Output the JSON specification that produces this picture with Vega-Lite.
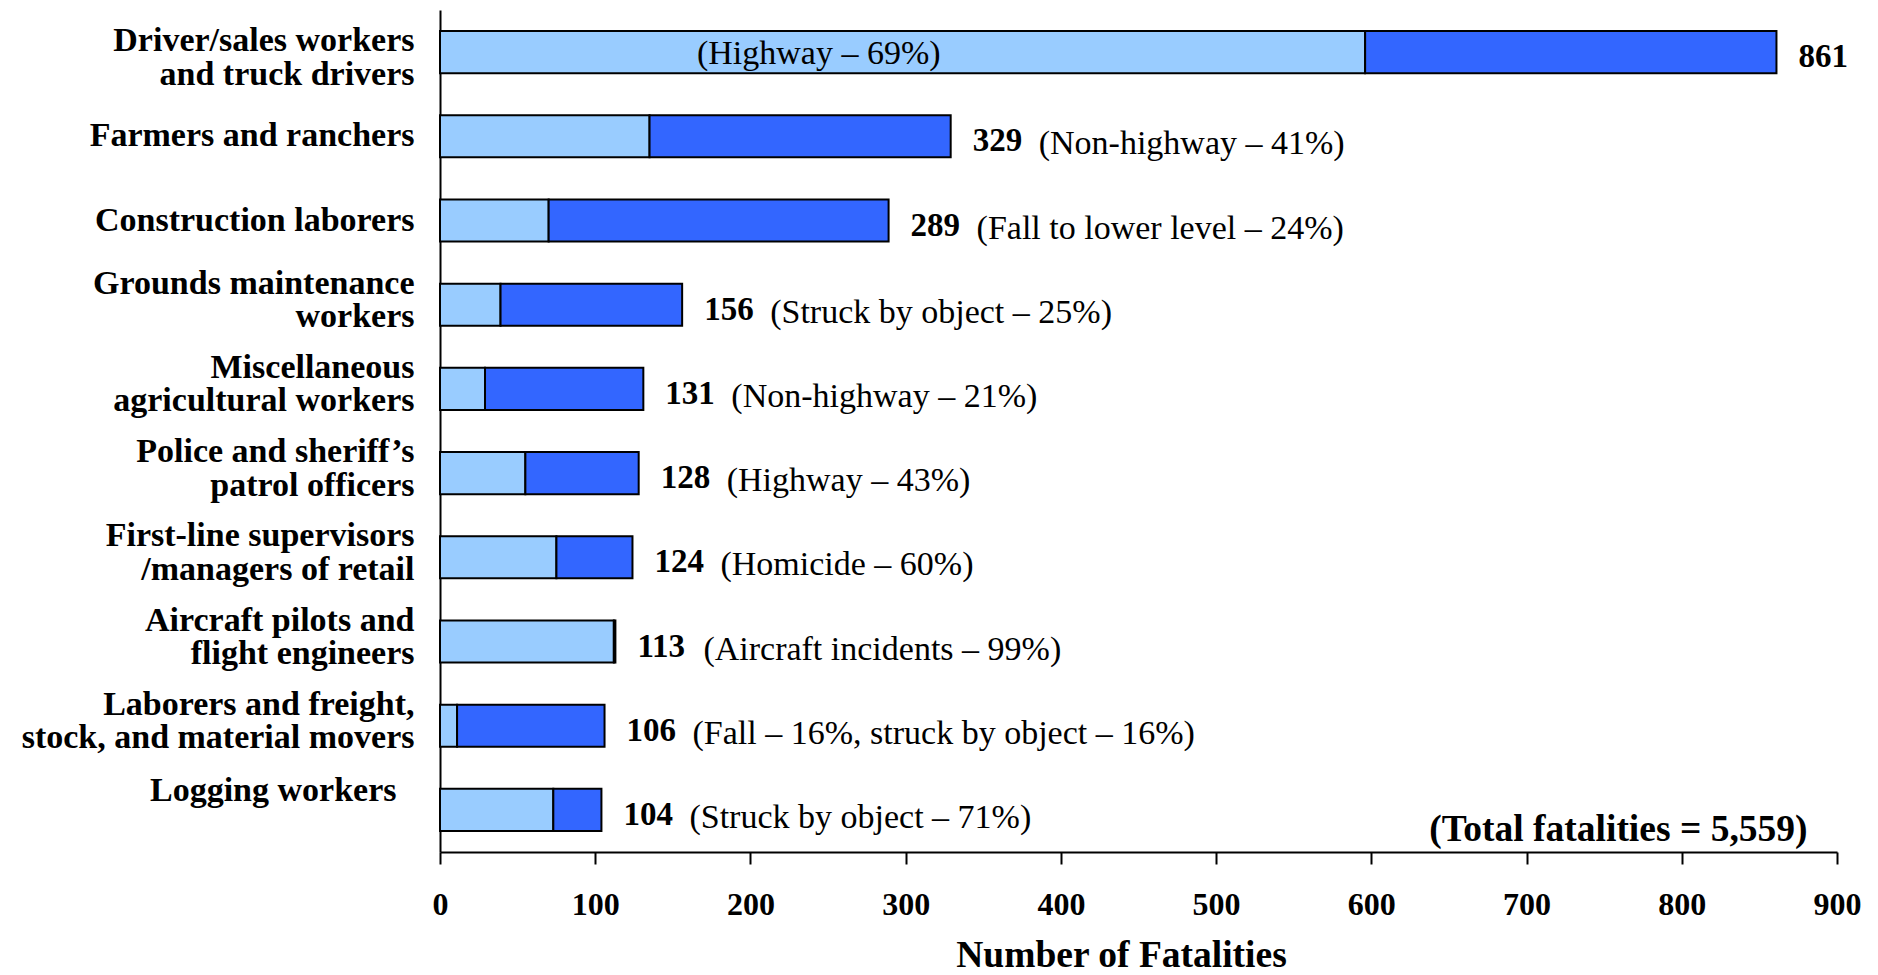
{
  "$schema": "https://vega.github.io/schema/vega-lite/v6.json",
  "width": 1397,
  "height": 842,
  "autosize": {"type": "none"},
  "padding": {"left": 440, "top": 10, "right": 41, "bottom": 123},
  "background": "white",
  "config": {"view": {"stroke": null}, "font": "Liberation Serif"},
  "data": {
    "values": [
      {"occupation": "Driver/sales workers\nand truck drivers", "total": 861, "primary": 596, "cause": "(Highway – 69%)"},
      {"occupation": "Farmers and ranchers", "total": 329, "primary": 135, "cause": "(Non-highway – 41%)"},
      {"occupation": "Construction laborers", "total": 289, "primary": 70, "cause": "(Fall to lower level – 24%)"},
      {"occupation": "Grounds maintenance\nworkers", "total": 156, "primary": 39, "cause": "(Struck by object – 25%)"},
      {"occupation": "Miscellaneous\nagricultural workers", "total": 131, "primary": 29, "cause": "(Non-highway – 21%)"},
      {"occupation": "Police and sheriff’s\npatrol officers", "total": 128, "primary": 55, "cause": "(Highway – 43%)"},
      {"occupation": "First-line supervisors\n/managers of retail", "total": 124, "primary": 75, "cause": "(Homicide – 60%)"},
      {"occupation": "Aircraft pilots and\nflight engineers", "total": 113, "primary": 112, "cause": "(Aircraft incidents – 99%)"},
      {"occupation": "Laborers and freight,\nstock, and material movers", "total": 106, "primary": 11, "cause": "(Fall – 16%, struck by object – 16%)"},
      {"occupation": "Logging workers", "total": 104, "primary": 73, "cause": "(Struck by object – 71%)"}
    ]
  },
  "layer": [
    {
      "mark": {"type": "bar", "color": "#99CCFF", "stroke": "black", "strokeWidth": 2},
      "encoding": {
        "y": {
          "field": "occupation", "type": "nominal", "sort": null,
          "scale": {"paddingInner": 0.5, "paddingOuter": 0.25},
          "axis": {
            "title": null, "domainColor": "black", "domainWidth": 2, "ticks": false, "tickSize": 0,
            "labelPadding": {"condition": {"test": "datum.value === 'Logging workers'", "value": 44}, "value": 26},
            "labelOffset": {"condition": [
              {"test": "indexof(datum.value, 'Driver') >= 0", "value": -11},
              {"test": "datum.value === 'Logging workers'", "value": -19},
              {"test": "indexof(datum.value, '\\n') >= 0", "value": -21}
            ], "value": 0},
            "labelFontSize": 34, "labelFontWeight": "bold", "labelColor": "black",
            "labelLineHeight": 33.5, "labelLimit": 600, "labelExpr": "split(datum.label, '\\n')"
          }
        },
        "x": {
          "field": "primary", "type": "quantitative",
          "scale": {"domain": [0, 900], "nice": false, "zero": true},
          "axis": {
            "values": [0, 100, 200, 300, 400, 500, 600, 700, 800, 900],
            "grid": false, "domainColor": "black", "domainWidth": 2,
            "tickColor": "black", "tickWidth": 2, "tickSize": 12,
            "labelFontSize": 32, "labelFontWeight": "bold", "labelColor": "black",
            "labelPadding": 25, "labelFlush": false, "labelOverlap": false,
            "title": "Number of Fatalities", "titleFontSize": 37.5, "titleFontWeight": "bold",
            "titleColor": "black", "titleBaseline": "bottom", "titleY": 122, "titleX": 681
          }
        }
      }
    },
    {
      "mark": {"type": "bar", "color": "#3366FF", "stroke": "black", "strokeWidth": 2},
      "encoding": {
        "y": {"field": "occupation", "type": "nominal", "sort": null},
        "x": {"field": "primary", "type": "quantitative"},
        "x2": {"field": "total"}
      }
    },
    {
      "mark": {"type": "text", "align": "left", "baseline": "middle", "dx": 22, "dy": 5, "fontWeight": "bold", "fontSize": 33, "color": "black"},
      "encoding": {
        "y": {"field": "occupation", "type": "nominal", "sort": null},
        "x": {"field": "total", "type": "quantitative"},
        "text": {"field": "total", "type": "quantitative"}
      }
    },
    {
      "transform": [{"filter": "datum.total < 800"}],
      "mark": {"type": "text", "align": "left", "baseline": "middle", "dx": 88, "dy": 8, "fontSize": 34, "color": "black"},
      "encoding": {
        "y": {"field": "occupation", "type": "nominal", "sort": null},
        "x": {"field": "total", "type": "quantitative"},
        "text": {"field": "cause", "type": "nominal"}
      }
    },
    {
      "transform": [{"filter": "datum.total >= 800"}],
      "mark": {"type": "text", "align": "center", "baseline": "middle", "dy": 2, "fontSize": 34, "color": "black"},
      "encoding": {
        "y": {"field": "occupation", "type": "nominal", "sort": null},
        "x": {"datum": 244, "type": "quantitative"},
        "text": {"field": "cause", "type": "nominal"}
      }
    },
    {
      "data": {"values": [{"label": "(Total fatalities = 5,559)"}]},
      "mark": {"type": "text", "align": "right", "baseline": "alphabetic", "dy": 31, "fontSize": 37.5, "fontWeight": "bold", "color": "black"},
      "encoding": {
        "y": {"datum": "Logging workers", "type": "nominal"},
        "x": {"datum": 881, "type": "quantitative"},
        "text": {"field": "label", "type": "nominal"}
      }
    }
  ]
}
